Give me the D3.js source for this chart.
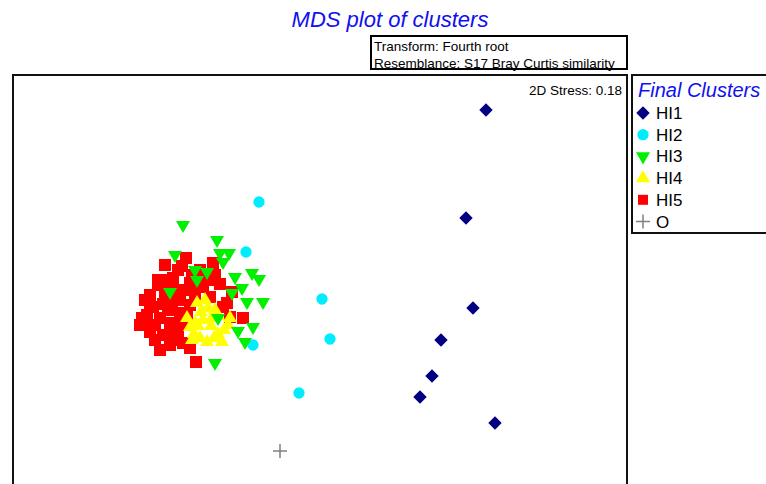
<!DOCTYPE html>
<html>
<head>
<meta charset="utf-8">
<script src="https://cdn.jsdelivr.net/npm/d3@7"></script>
<style>
  body { margin: 0; background: #fff; }
  text { font-family: "Liberation Sans", Arial, sans-serif; }
</style>
</head>
<body>
<div id="chart"></div>
<script>
// MDS coordinates, one pair of arrays per cluster

let hi1X = [1.66, 1.46, 1.53, 1.21, 1.12, 1.00, 1.75]
let hi1Y = [1.70, 0.62, -0.28, -0.60, -0.96, -1.17, -1.43]

let hi2X = [-0.61, -0.74, 0.02, 0.10, -0.67, -0.21]
let hi2Y = [0.78, 0.28, -0.19, -0.59, -0.65, -1.13]

let hi3X = [-1.37, -1.03, -1.00, -0.91, -0.97, -1.45, -1.25, -1.13, -1.23, -0.85, -0.68,
            -0.61, -0.78, -0.88, -0.73, -0.57, -0.67, -0.82, -0.75, -1.05, -1.02, -1.50]
let hi3Y = [0.55, 0.40, 0.27, 0.27, 0.18, 0.25, 0.10, 0.08, 0.00, 0.03, 0.07,
            0.01, -0.08, -0.13, -0.22, -0.22, -0.47, -0.51, -0.62, -0.83, -0.38, -0.12]

let hi4X = [-1.23, -1.12, -1.05, -1.02, -1.25, -1.17, -1.30, -1.26, -1.02, -0.96, -1.13,
            -1.20, -0.90, -1.19, -1.09, -1.33, -1.22, -1.06, -0.98, -0.92, -1.15, -1.08, -1.28]
let hi4Y = [-0.23, -0.28, -0.30, -0.36, -0.43, -0.40, -0.47, -0.54, -0.54, -0.50, -0.62,
            -0.58, -0.38, -0.32, -0.46, -0.38, -0.46, -0.58, -0.62, -0.45, -0.20, -0.38, -0.60]

let hi5X = [-1.07, -1.38, -1.62, -1.47, -1.30, -1.20, -1.00, -1.70, -1.73, -1.57, -1.40,
            -1.67, -1.77, -1.70, -1.60, -1.50, -1.40, -1.37, -1.24, -1.17, -0.93, -0.77,
            -0.90, -1.10, -0.97, -1.48, -1.35, -1.55, -1.25, -1.60, -1.45, -1.30, -1.65,
            -1.78, -1.52, -1.42, -1.20, -1.12, -0.88, -1.34, -1.55, -1.35, -1.57, -1.70,
            -1.75, -1.80, -1.65, -1.55, -1.45, -1.30, -1.50, -1.62, -1.40, -1.42, -1.52,
            -1.33, -1.48, -1.28, -1.05]
let hi5Y = [0.17, 0.14, 0.00, 0.02, -0.03, -0.04, -0.04, -0.23, -0.35, -0.24, -0.20,
            -0.27, -0.43, -0.52, -0.70, -0.43, -0.33, -0.63, -0.82, -0.07, -0.23, -0.38,
            -0.37, -0.17, -0.27, -0.60, -0.10, -0.12, -0.15, -0.38, -0.50, -0.68, -0.60,
            -0.38, -0.30, 0.10, 0.10, 0.00, -0.12, 0.22, 0.15, -0.45, -0.55, -0.15,
            -0.20, -0.45, -0.45, -0.00, -0.10, -0.25, -0.65, -0.05, -0.42, -0.55, -0.20,
            -0.35, -0.30, 0.05, 0.05]

let oX = [-0.40]
let oY = [-1.71]

let clusterNames = ["HI1", "HI2", "HI3", "HI4", "HI5", "O"]
let clusterColors = ["#000080", "#00ecff", "#00f000", "#ffff00", "#ff0000", "#808080"]

let titleText = "MDS plot of clusters"
let infoLines = ["Transform: Fourth root", "Resemblance: S17 Bray Curtis similarity"]
let stressText = "2D Stress: 0.18"
let legendTitle = "Final Clusters"

let width = 766, height = 484

let svg = d3.select("#chart").append("svg")
  .attr("width", width)
  .attr("height", height)

// plot frame
let box = {left: 13, top: 75, right: 627, bottom: 500}

let x = d3.scaleLinear().domain([-3.08, 3.08]).range([12, 628])
let y = d3.scaleLinear().domain([-2.04, 2.06]).range([484, 74])

svg.append("text")
  .attr("x", 390)
  .attr("y", 27)
  .attr("text-anchor", "middle")
  .style("font-size", "22px")
  .style("font-style", "italic")
  .style("fill", "#1010f0")
  .text(titleText)

svg.append("rect")
  .attr("x", 371).attr("y", 36)
  .attr("width", 256).attr("height", 33)
  .style("fill", "none")
  .style("stroke", "#000")
  .style("stroke-width", 2)

svg.selectAll(".info")
  .data(infoLines)
  .enter()
  .append("text")
  .attr("x", 374)
  .attr("y", (d, i) => 51 + i * 17)
  .style("font-size", "13.5px")
  .style("fill", "#000")
  .text(d => d)

svg.append("rect")
  .attr("x", box.left).attr("y", box.top)
  .attr("width", box.right - box.left).attr("height", box.bottom - box.top)
  .style("fill", "none")
  .style("stroke", "#111")
  .style("stroke-width", 2)

svg.append("text")
  .attr("x", 622)
  .attr("y", 95)
  .attr("text-anchor", "end")
  .style("font-size", "13.5px")
  .text(stressText)

// marker shapes
let diamond = d3.symbol().type(d3.symbolSquare).size(90)
let circle = d3.symbol().type(d3.symbolCircle).size(100)
let tri = d3.symbol().type(d3.symbolTriangle).size(85)
let square = d3.symbol().type(d3.symbolSquare).size(144)

function addPoints(xs, ys, shape, color, rotate) {
  svg.append("g")
    .selectAll("path")
    .data(xs.map((v, i) => [v, ys[i]]))
    .enter()
    .append("path")
    .attr("d", shape)
    .attr("transform", d => "translate(" + x(d[0]) + "," + y(d[1]) + ") rotate(" + rotate + ")")
    .style("fill", color)
}

function addPlus(g, cx, cy, color) {
  g.append("path")
    .attr("d", "M" + (cx - 7) + "," + cy + "H" + (cx + 7) + "M" + cx + "," + (cy - 7) + "V" + (cy + 7))
    .style("stroke", color)
    .style("stroke-width", 1.5)
    .style("fill", "none")
}

addPoints(hi5X, hi5Y, square, clusterColors[4], 0)
addPoints(hi4X, hi4Y, tri, clusterColors[3], 0)
addPoints(hi2X, hi2Y, circle, clusterColors[1], 0)
addPoints(hi3X, hi3Y, tri, clusterColors[2], 180)
addPoints(hi1X, hi1Y, diamond, clusterColors[0], 45)

let plusG = svg.append("g")
oX.forEach((v, i) => addPlus(plusG, x(v), y(oY[i]), clusterColors[5]))

// legend
let lg = svg.append("g")

lg.append("rect")
  .attr("x", 632).attr("y", 75)
  .attr("width", 150).attr("height", 158)
  .style("fill", "#fff")
  .style("stroke", "#111")
  .style("stroke-width", 2)

lg.append("text")
  .attr("x", 638).attr("y", 97)
  .style("font-size", "20px")
  .style("font-style", "italic")
  .style("fill", "#1010f0")
  .text(legendTitle)

let legShapes = [
  [diamond, 45], [circle, 0], [tri, 180], [tri, 0], [d3.symbol().type(d3.symbolSquare).size(100), 0]
]

clusterNames.forEach(function(name, i) {
  let ly = 113 + i * 21.7
  if (i < 5) {
    lg.append("path")
      .attr("d", legShapes[i][0])
      .attr("transform", "translate(643," + ly + ") rotate(" + legShapes[i][1] + ")")
      .style("fill", clusterColors[i])
  } else {
    addPlus(lg, 643, ly, clusterColors[i])
  }
  lg.append("text")
    .attr("x", 656).attr("y", ly + 6)
    .style("font-size", "17px")
    .text(name)
})
</script>
</body>
</html>
